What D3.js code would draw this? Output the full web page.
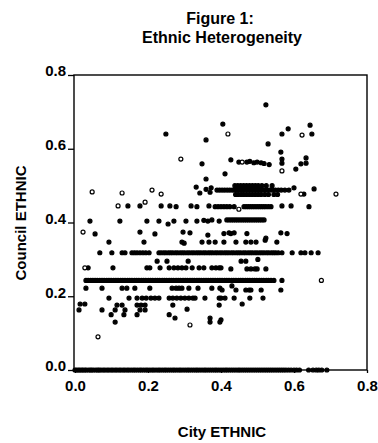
<!DOCTYPE html>
<html>
<head>
<meta charset="utf-8">
<script src="https://cdn.jsdelivr.net/npm/d3@7"></script>
<style>
  html, body { margin: 0; padding: 0; background: #fff; }
  svg { display: block; font-family: "Liberation Sans", Arial, sans-serif; }
</style>
</head>
<body>
<svg id="chart" width="378" height="443"></svg>
<script>
// tick values shared by both axes
const tickValues = [0, 0.2, 0.4, 0.6, 0.8];

// horizontal bands of points (council value fixed, city values)
const bandLevels = [0, 0.243, 0.318, 0.407, 0.443, 0.476, 0.488, 0.500];

const band00 = [0.000, 0.004, 0.009, 0.013, 0.018, 0.022, 0.027, 0.031, 0.037, 0.042, 0.046, 0.051,
  0.057, 0.062, 0.066, 0.071, 0.077, 0.082, 0.088, 0.093, 0.099, 0.104, 0.110, 0.115, 0.121, 0.126,
  0.132, 0.137, 0.143, 0.148, 0.154, 0.160, 0.165, 0.171, 0.177, 0.182, 0.188, 0.194, 0.199, 0.205,
  0.211, 0.216, 0.222, 0.228, 0.233, 0.239, 0.245, 0.250, 0.256, 0.262, 0.268, 0.273, 0.279, 0.285,
  0.290, 0.296, 0.302, 0.308, 0.313, 0.319, 0.325, 0.331, 0.336, 0.342, 0.348, 0.354, 0.359, 0.365,
  0.371, 0.377, 0.383, 0.388, 0.394, 0.400, 0.406, 0.412, 0.417, 0.423, 0.429, 0.435, 0.441, 0.447,
  0.452, 0.458, 0.464, 0.470, 0.476, 0.482, 0.488, 0.494, 0.500, 0.506, 0.512, 0.518, 0.524, 0.530,
  0.536, 0.542, 0.548, 0.554, 0.560, 0.566, 0.572, 0.578, 0.585, 0.592, 0.600, 0.607, 0.615, 0.640,
  0.652, 0.661, 0.668, 0.676, 0.690];

const band24 = [0.030, 0.036, 0.043, 0.049, 0.055, 0.061, 0.068, 0.074, 0.080, 0.087, 0.093, 0.099,
  0.106, 0.112, 0.118, 0.125, 0.131, 0.137, 0.144, 0.150, 0.156, 0.163, 0.169, 0.175, 0.182, 0.188,
  0.194, 0.201, 0.207, 0.213, 0.220, 0.226, 0.232, 0.239, 0.245, 0.251, 0.258, 0.264, 0.270, 0.277,
  0.283, 0.289, 0.296, 0.302, 0.308, 0.315, 0.321, 0.327, 0.334, 0.340, 0.346, 0.353, 0.359, 0.365,
  0.372, 0.378, 0.384, 0.391, 0.397, 0.403, 0.410, 0.416, 0.422, 0.429, 0.435, 0.441, 0.448, 0.454,
  0.460, 0.467, 0.473, 0.479, 0.486, 0.492, 0.498, 0.505, 0.511, 0.517, 0.524, 0.530, 0.537, 0.545,
  0.567];

const band32 = [0.068, 0.101, 0.129, 0.137, 0.156, 0.163, 0.170, 0.178, 0.186, 0.194, 0.203, 0.230,
  0.236, 0.243, 0.249, 0.256, 0.262, 0.268, 0.275, 0.281, 0.288, 0.294, 0.300, 0.307, 0.313, 0.320,
  0.326, 0.333, 0.339, 0.345, 0.352, 0.358, 0.365, 0.371, 0.377, 0.384, 0.390, 0.397, 0.403, 0.410,
  0.416, 0.422, 0.429, 0.435, 0.442, 0.448, 0.454, 0.461, 0.467, 0.474, 0.480, 0.486, 0.493, 0.499,
  0.506, 0.512, 0.518, 0.525, 0.531, 0.538, 0.544, 0.550, 0.557, 0.567, 0.595, 0.619, 0.630, 0.647,
  0.666];

const band41 = [0.416, 0.422, 0.428, 0.434, 0.440, 0.446, 0.452, 0.458, 0.464, 0.470, 0.476, 0.482,
  0.488, 0.494, 0.500, 0.506, 0.512, 0.518];

const band44 = [0.392, 0.400, 0.408, 0.416, 0.424, 0.436, 0.463, 0.469, 0.475, 0.481, 0.487, 0.493,
  0.499, 0.505, 0.511, 0.517, 0.523, 0.530, 0.537];

const band48 = [0.440, 0.447, 0.455, 0.462, 0.470, 0.478, 0.486, 0.494, 0.502, 0.510, 0.520, 0.530,
  0.545, 0.555];

const band49 = [0.389, 0.396, 0.403, 0.410, 0.417, 0.424, 0.431, 0.437, 0.443, 0.449, 0.455, 0.461,
  0.467, 0.473, 0.479, 0.485, 0.491, 0.497, 0.503, 0.509, 0.515, 0.521, 0.527, 0.534, 0.541, 0.549,
  0.557, 0.565, 0.575, 0.586];

const band50 = [0.438, 0.446, 0.454, 0.462, 0.470, 0.478, 0.486, 0.494, 0.502, 0.512, 0.524, 0.540];

// scattered filled points: city ETHNIC / council ETHNIC
const scatterCity = [
  0.523, 0.405, 0.359, 0.249, 0.584, 0.567, 0.644, 0.649, 0.529, 0.564, 0.633, 0.567, 0.567, 0.619,
  0.633, 0.605, 0.348, 0.427, 0.449, 0.471, 0.479, 0.490, 0.499, 0.510, 0.518, 0.532, 0.411, 0.359,
  0.332, 0.342, 0.370, 0.359, 0.373, 0.600, 0.627, 0.655,
  0.145, 0.178, 0.236, 0.260, 0.277, 0.318, 0.334, 0.367, 0.384, 0.567, 0.592, 0.641,
  0.041, 0.123, 0.197, 0.230, 0.271, 0.304, 0.334, 0.353, 0.364, 0.375, 0.395, 0.255,
  0.055, 0.178, 0.219, 0.296, 0.315, 0.364, 0.408, 0.422, 0.427, 0.436, 0.471, 0.523, 0.564, 0.581,
  0.093, 0.189, 0.293, 0.299, 0.348, 0.367, 0.384, 0.408, 0.441, 0.468, 0.482, 0.496, 0.521, 0.553,
  0.225, 0.252, 0.310, 0.455, 0.468, 0.501,
  0.036, 0.104, 0.197, 0.205, 0.233, 0.258, 0.271, 0.282, 0.293, 0.304, 0.321, 0.340, 0.353, 0.375,
  0.386, 0.395, 0.400, 0.427, 0.471, 0.482, 0.493, 0.499, 0.523,
  0.030, 0.074, 0.129, 0.142, 0.164, 0.205, 0.266, 0.277, 0.285, 0.293, 0.312, 0.337, 0.375, 0.397,
  0.403, 0.430, 0.441, 0.468, 0.477, 0.482, 0.510, 0.564,
  0.093, 0.148, 0.170, 0.184, 0.195, 0.208, 0.219, 0.230, 0.258, 0.268, 0.279, 0.290, 0.301, 0.312,
  0.323, 0.329, 0.356, 0.395, 0.400, 0.411, 0.436, 0.479, 0.515,
  0.014, 0.027, 0.115, 0.129, 0.170, 0.181, 0.192, 0.268, 0.395, 0.458,
  0.011, 0.074, 0.110, 0.137, 0.178, 0.192, 0.307,
  0.099, 0.134, 0.170, 0.258, 0.274, 0.110, 0.370, 0.370, 0.397, 0.400
];
const scatterCouncil = [
  0.719, 0.667, 0.624, 0.640, 0.654, 0.640, 0.664, 0.640, 0.613, 0.591, 0.575, 0.572, 0.561, 0.559,
  0.561, 0.545, 0.559, 0.570, 0.564, 0.564, 0.566, 0.562, 0.564, 0.562, 0.560, 0.557, 0.532, 0.518,
  0.496, 0.480, 0.482, 0.490, 0.494, 0.494, 0.477, 0.491,
  0.445, 0.445, 0.445, 0.445, 0.443, 0.445, 0.443, 0.445, 0.443, 0.445, 0.445, 0.443,
  0.404, 0.404, 0.404, 0.404, 0.404, 0.404, 0.404, 0.406, 0.404, 0.407, 0.404, 0.396,
  0.369, 0.374, 0.369, 0.374, 0.372, 0.366, 0.370, 0.372, 0.370, 0.372, 0.370, 0.358, 0.372, 0.370,
  0.347, 0.347, 0.347, 0.344, 0.347, 0.347, 0.347, 0.347, 0.347, 0.347, 0.347, 0.347, 0.352, 0.347,
  0.295, 0.295, 0.295, 0.295, 0.295, 0.300,
  0.277, 0.277, 0.277, 0.277, 0.277, 0.277, 0.277, 0.277, 0.277, 0.277, 0.277, 0.277, 0.277, 0.277,
  0.277, 0.277, 0.277, 0.274, 0.274, 0.274, 0.274, 0.274, 0.274,
  0.222, 0.222, 0.222, 0.222, 0.222, 0.222, 0.222, 0.222, 0.222, 0.222, 0.222, 0.222, 0.222, 0.222,
  0.217, 0.228, 0.217, 0.217, 0.217, 0.217, 0.217, 0.217,
  0.195, 0.195, 0.195, 0.195, 0.195, 0.195, 0.195, 0.195, 0.195, 0.195, 0.195, 0.195, 0.195, 0.195,
  0.195, 0.195, 0.195, 0.195, 0.195, 0.195, 0.195, 0.195, 0.195,
  0.179, 0.179, 0.176, 0.176, 0.176, 0.176, 0.176, 0.176, 0.176, 0.179,
  0.163, 0.163, 0.163, 0.163, 0.163, 0.163, 0.165,
  0.150, 0.150, 0.150, 0.150, 0.141, 0.130, 0.141, 0.130, 0.130, 0.136
];

// open (hollow) markers
const openCity = [0.047, 0.129, 0.211, 0.236, 0.118, 0.192, 0.022, 0.027, 0.315, 0.063, 0.419, 0.622,
  0.458, 0.567, 0.290, 0.675, 0.715, 0.449, 0.619];
const openCouncil = [0.483, 0.480, 0.488, 0.477, 0.445, 0.455, 0.374, 0.277, 0.122, 0.090, 0.640, 0.637,
  0.564, 0.540, 0.572, 0.243, 0.477, 0.436, 0.477];

// ---- build point list ----
const bands = [band00, band24, band32, band41, band44, band48, band49, band50];
const points = [];
bands.forEach((xs, i) => xs.forEach(v => points.push({x: v, y: bandLevels[i], open: false})));
scatterCity.forEach((v, i) => points.push({x: v, y: scatterCouncil[i], open: false}));
openCity.forEach((v, i) => points.push({x: v, y: openCouncil[i], open: true}));

const svg = d3.select('#chart');

const x = d3.scaleLinear().domain([0, 0.8]).range([75, 367]);
const y = d3.scaleLinear().domain([0, 0.8]).range([370, 75]);

// title
svg.append('text').attr('x', 220).attr('y', 24).attr('text-anchor', 'middle')
  .style('font-size', '16px').style('font-weight', 'bold').text('Figure 1:');
svg.append('text').attr('x', 222).attr('y', 43).attr('text-anchor', 'middle')
  .style('font-size', '16px').style('font-weight', 'bold').text('Ethnic Heterogeneity');

// y axis
const yAxis = svg.append('g')
  .attr('transform', 'translate(74,0)')
  .call(d3.axisLeft(y).tickValues(tickValues).tickFormat(d3.format('.1f')).tickSize(6).tickPadding(2));
yAxis.select('.domain').remove();
yAxis.selectAll('line').attr('stroke', '#000').attr('stroke-width', 1.3);
yAxis.selectAll('text').attr('dy', '0.05em')
  .style('font-size', '15px').style('font-weight', 'bold').attr('fill', '#000');

// x axis
const xAxis = svg.append('g')
  .attr('transform', 'translate(0,370)')
  .call(d3.axisBottom(x).tickValues(tickValues).tickFormat(d3.format('.1f')).tickSize(3).tickPadding(7));
xAxis.select('.domain').remove();
xAxis.selectAll('line').attr('stroke', '#000').attr('stroke-width', 1.3);
xAxis.selectAll('text')
  .style('font-size', '15px').style('font-weight', 'bold').attr('fill', '#000');

// frame
svg.append('rect')
  .attr('x', 74).attr('y', y(0.8))
  .attr('width', x(0.8) - 74).attr('height', y(0) - y(0.8))
  .attr('fill', 'none').attr('stroke', '#000').attr('stroke-width', 1.4);

// points
svg.append('g').selectAll('circle')
  .data(points)
  .enter()
  .append('circle')
  .attr('cx', d => x(d.x))
  .attr('cy', d => y(d.y))
  .attr('r', 2)
  .attr('fill', d => d.open ? '#fff' : '#000')
  .attr('stroke', '#000')
  .attr('stroke-width', 1.2);

// axis titles
svg.append('text')
  .attr('transform', 'translate(26,223) rotate(-90)')
  .attr('text-anchor', 'middle')
  .style('font-size', '15px').style('font-weight', 'bold')
  .text('Council ETHNIC');
svg.append('text').attr('x', 222).attr('y', 437).attr('text-anchor', 'middle')
  .style('font-size', '15px').style('font-weight', 'bold').text('City ETHNIC');
</script>
</body>
</html>
